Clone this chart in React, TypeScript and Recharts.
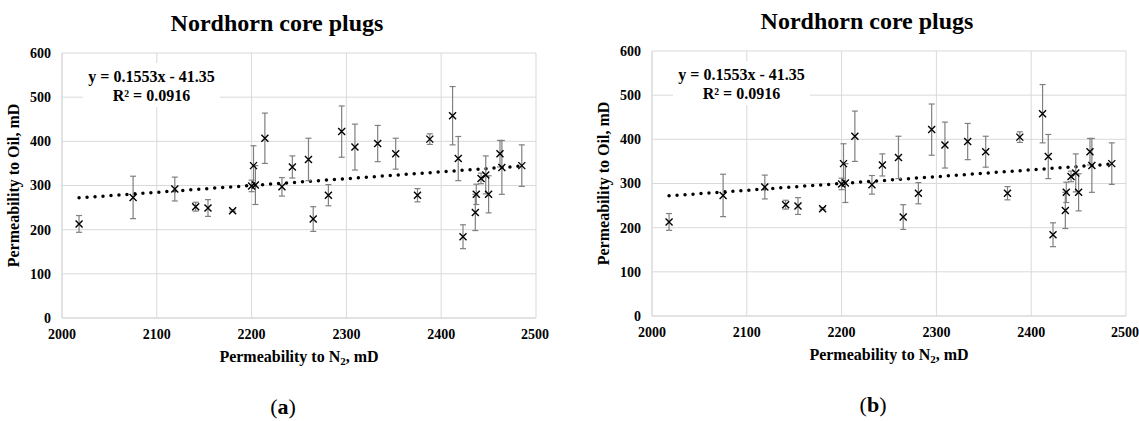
import React from 'react';
import {
  ScatterChart,
  Scatter,
  XAxis,
  YAxis,
  CartesianGrid,
  ErrorBar,
  ReferenceLine,
} from 'recharts';

// Permeability to N2 (mD) per plug
const nitrogen = [
  2018, 2075, 2119, 2141, 2154, 2180, 2200, 2202, 2204, 2214, 2232, 2243, 2260, 2265, 2281, 2295,
  2309, 2333, 2352, 2375, 2388, 2412, 2418, 2423, 2436, 2437, 2442, 2447, 2450, 2462, 2464, 2485,
];
// Permeability to oil (mD)
const oil = [
  213, 273, 292, 252, 249, 243, 299, 345, 301, 407, 297, 342, 359, 224, 278, 422,
  387, 395, 372, 278, 405, 458, 361, 184, 239, 280, 316, 324, 280, 372, 341, 345,
];
// +/- error on oil permeability
const oilErr = [
  19, 48, 27, 10, 19, 2, 13, 45, 44, 57, 21, 25, 48, 28, 24, 58,
  52, 41, 35, 15, 12, 66, 50, 27, 41, 23, 12, 43, 42, 30, 61, 47,
];

// dotted linear trendline, end points
const trendX = [2018, 2485];
const trendY = [272, 344];

const xTicks = [2000, 2100, 2200, 2300, 2400, 2500];
const yTicks = [0, 100, 200, 300, 400, 500, 600];

const points = nitrogen.map((x, i) => ({ x, y: oil[i], err: oilErr[i] }));

const FONT = '"Liberation Serif", "Times New Roman", serif';
const GRID = '#d9d9d9';

const tickStyle = { fontSize: 14, fontWeight: 700, fill: '#000', fontFamily: FONT };

function Cross(props: any) {
  const { cx, cy } = props;
  if (cx == null || cy == null) return null;
  const s = 3.5;
  return (
    <path
      d={`M${cx - s},${cy - s}L${cx + s},${cy + s}M${cx - s},${cy + s}L${cx + s},${cy - s}`}
      stroke="#000"
      strokeWidth={1.4}
      fill="none"
    />
  );
}

function XTitle(props: any) {
  const vb = props.viewBox || { x: 62, y: 318, width: 474, height: 30 };
  return (
    <text
      x={vb.x + vb.width / 2}
      y={vb.y + 44}
      textAnchor="middle"
      fontFamily={FONT}
      fontWeight={700}
      fontSize={16}
      fill="#000"
    >
      Permeability to N<tspan fontSize={11} dy={3}>2</tspan>
      <tspan dy={-3}>, mD</tspan>
    </text>
  );
}

function YTitle(props: any) {
  const vb = props.viewBox || { x: 12, y: 53, width: 50, height: 265 };
  const x = vb.x + vb.width - 49;
  const y = vb.y + vb.height / 2;
  return (
    <text
      x={x}
      y={y}
      transform={`rotate(-90 ${x} ${y})`}
      textAnchor="middle"
      dominantBaseline="central"
      fontFamily={FONT}
      fontWeight={700}
      fontSize={16}
      fill="#000"
    >
      Permeability to Oil, mD
    </text>
  );
}

function Panel({ tag, left, top }: { tag: string; left: number; top: number }) {
  return (
    <div style={{ position: 'absolute', left, top, width: 549, height: 421 }}>
      <ScatterChart width={549} height={421} margin={{ top: 53, right: 13, bottom: 73, left: 12 }}>
        <CartesianGrid stroke={GRID} />
        <XAxis
          type="number"
          dataKey="x"
          domain={[2000, 2500]}
          ticks={xTicks}
          height={30}
          tickSize={0}
          tickMargin={11}
          tickLine={false}
          axisLine={{ stroke: GRID }}
          tick={tickStyle}
          label={<XTitle />}
        />
        <YAxis
          type="number"
          dataKey="y"
          domain={[0, 600]}
          ticks={yTicks}
          width={50}
          tickSize={0}
          tickMargin={11}
          tickLine={false}
          axisLine={{ stroke: GRID }}
          tick={tickStyle}
          label={<YTitle />}
        />
        <ReferenceLine
          segment={[
            { x: trendX[0], y: trendY[0] },
            { x: trendX[1], y: trendY[1] },
          ]}
          stroke="#000"
          strokeWidth={3.5}
          strokeDasharray="0 8"
          strokeLinecap="round"
        />
        <Scatter data={points} shape={<Cross />} isAnimationActive={false}>
          <ErrorBar dataKey="err" direction="y" width={3} stroke="#808080" strokeWidth={1.2} />
        </Scatter>
      </ScatterChart>

      <div
        style={{
          position: 'absolute',
          left: 0,
          top: 11,
          width: 554,
          textAlign: 'center',
          fontFamily: FONT,
          fontWeight: 700,
          fontSize: 24,
          lineHeight: '24px',
          color: '#000',
        }}
      >
        Nordhorn core plugs
      </div>

      <div
        style={{
          position: 'absolute',
          left: 83,
          top: 63,
          width: 137,
          height: 44,
          background: '#fff',
          textAlign: 'center',
          fontFamily: FONT,
          fontWeight: 700,
          fontSize: 16,
          lineHeight: '19px',
          paddingTop: 4,
          boxSizing: 'border-box',
          color: '#000',
        }}
      >
        <div>y = 0.1553x - 41.35</div>
        <div>R² = 0.0916</div>
      </div>

      <div
        style={{
          position: 'absolute',
          left: 233,
          top: 395,
          width: 100,
          textAlign: 'center',
          fontFamily: FONT,
          fontSize: 22,
          lineHeight: '24px',
          color: '#000',
        }}
      >
        (<b>{tag}</b>)
      </div>
    </div>
  );
}

export default function App() {
  return (
    <div style={{ position: 'absolute', left: 0, top: 0, width: 1139, height: 421, background: '#fff', overflow: 'hidden' }}>
      <Panel tag="a" left={0} top={0} />
      <Panel tag="b" left={590} top={-2} />
    </div>
  );
}
